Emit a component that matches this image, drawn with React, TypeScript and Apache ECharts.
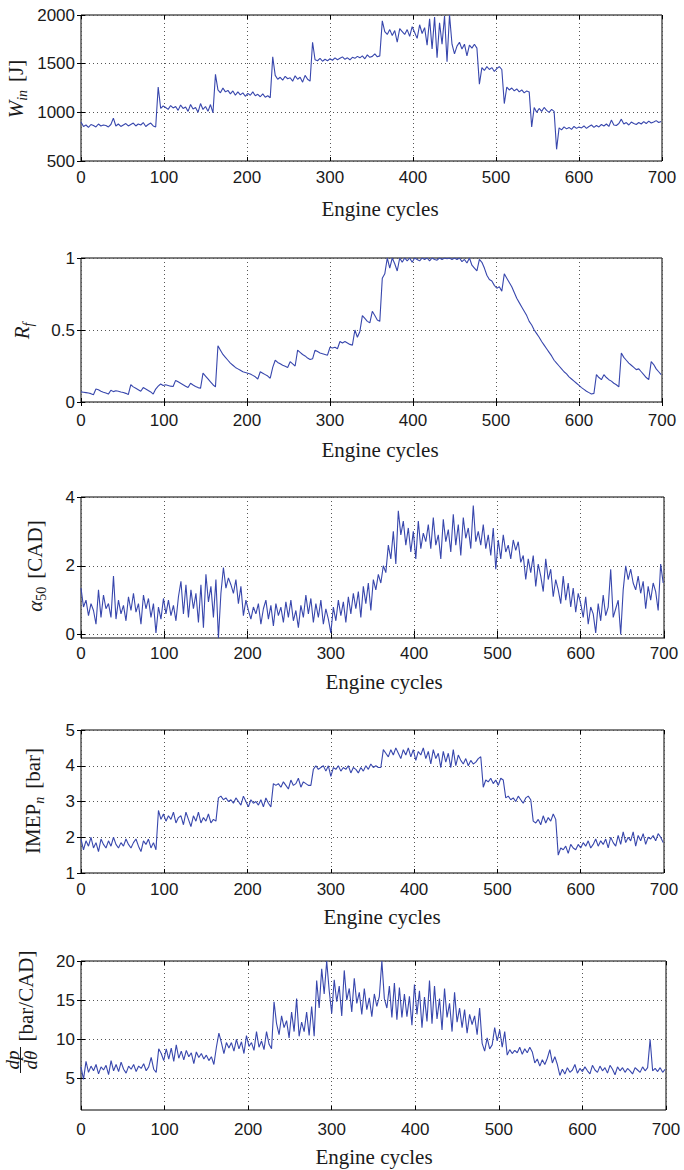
import React, { useEffect, useRef } from "react";
import * as echarts from "echarts";

// cycle index of each sample (every 3rd engine cycle)
const STEP = 3;
const N = 234;
const CYCLES: number[] = Array.from({ length: N }, (_, i) => i * STEP);

const X_TICKS = [0, 100, 200, 300, 400, 500, 600, 700];

const W_IN = [
  900, 855, 870, 845, 875, 865, 850, 880, 860, 870,
  865, 850, 875, 940, 860, 880, 855, 870, 885, 860,
  875, 890, 860, 880, 870, 895, 855, 875, 890, 860,
  850, 1260, 1040, 1065, 1050, 1030, 1070, 1045, 1060, 1020,
  1075, 1040, 1055, 1010, 1080, 1035, 1050, 1000, 1090, 1030,
  1060, 1010, 1080, 995, 1390, 1230, 1200, 1250, 1210, 1225,
  1190, 1220, 1175, 1210, 1180, 1200, 1165, 1195, 1175, 1210,
  1170, 1185, 1160, 1190, 1155, 1170, 1150, 1570, 1380, 1340,
  1360, 1330, 1370, 1345, 1355, 1320, 1375, 1340, 1360, 1310,
  1380, 1340, 1320, 1720, 1540, 1530, 1555, 1525, 1545, 1530,
  1550, 1535, 1560, 1540, 1555, 1570, 1545, 1560, 1540, 1565,
  1555, 1575, 1560, 1580, 1550, 1590, 1565, 1575, 1600, 1570,
  1580, 1940, 1830, 1800, 1850, 1790, 1840, 1720, 1860, 1830,
  1800, 1850, 1780, 1880, 1820, 1760, 1900, 1810, 1870, 1690,
  1960, 1650, 1980, 1560, 1920, 1700, 1990, 1520, 2000, 1700,
  1600, 1680, 1720, 1650, 1700, 1580, 1690, 1660, 1700, 1660,
  1290, 1460, 1430, 1470, 1440, 1460, 1420, 1450, 1470, 1440,
  1090, 1260, 1230, 1250, 1220, 1240, 1210, 1230, 1200, 1220,
  1210, 850, 1050, 1000, 1040, 1010, 1050, 1020, 1000, 1030,
  1010, 620, 840, 820, 850, 830, 845, 825, 855, 835,
  850, 840, 860, 835, 855, 870, 845, 865, 850, 875,
  860, 880, 855, 920, 870, 865, 885, 930, 880, 895,
  870, 900, 885, 875, 895, 880, 905, 885, 910, 890,
  900, 915, 895, 905,
];

const R_F = [
  0.07, 0.068, 0.065, 0.062, 0.058, 0.05, 0.09, 0.085, 0.075, 0.068,
  0.062, 0.055, 0.082, 0.072, 0.078, 0.075, 0.07, 0.066, 0.06, 0.052,
  0.12, 0.105, 0.095, 0.085, 0.075, 0.1, 0.09, 0.08, 0.07, 0.055,
  0.09, 0.11, 0.125, 0.115, 0.12, 0.115, 0.11, 0.108, 0.15, 0.14,
  0.13, 0.12, 0.11, 0.1, 0.13, 0.118, 0.108, 0.1, 0.095, 0.2,
  0.18, 0.16, 0.14, 0.12, 0.105, 0.39, 0.36, 0.33, 0.31, 0.29,
  0.27, 0.255, 0.24, 0.23, 0.22, 0.21, 0.205, 0.2, 0.195, 0.185,
  0.175, 0.16, 0.21, 0.2, 0.19, 0.18, 0.165, 0.24, 0.29, 0.275,
  0.265, 0.255, 0.248, 0.24, 0.28, 0.265, 0.25, 0.36, 0.345, 0.33,
  0.32, 0.305, 0.295, 0.3, 0.36, 0.35, 0.34, 0.335, 0.33, 0.325,
  0.38, 0.375, 0.38, 0.37, 0.42, 0.41, 0.42, 0.41, 0.4, 0.395,
  0.5, 0.45, 0.49, 0.6, 0.58, 0.56, 0.55, 0.63, 0.6, 0.57,
  0.56, 0.86, 0.89, 1.0, 0.93, 1.0, 0.96, 0.91, 1.0, 0.97,
  1.0, 0.98, 1.0, 0.97, 1.0, 0.99, 0.98, 1.0, 0.99, 1.0,
  0.98, 1.0, 0.99, 0.985, 1.0, 0.99, 1.0, 0.995, 1.0, 0.99,
  1.0, 0.99, 1.0, 0.975, 0.99, 0.965, 1.0, 0.95, 0.93, 0.91,
  0.99, 0.97, 0.93, 0.88, 0.85, 0.84, 0.81, 0.79, 0.8, 0.77,
  0.89, 0.86, 0.83, 0.8, 0.76, 0.72, 0.69, 0.66, 0.63, 0.6,
  0.56, 0.535, 0.5, 0.475, 0.45, 0.42, 0.395, 0.37, 0.345, 0.32,
  0.29, 0.27, 0.25, 0.23, 0.21, 0.195, 0.175, 0.16, 0.145, 0.13,
  0.115, 0.1, 0.088, 0.075, 0.065, 0.055, 0.06, 0.19, 0.17, 0.155,
  0.19, 0.17, 0.155, 0.145, 0.13, 0.12, 0.105, 0.34, 0.31, 0.29,
  0.27, 0.255, 0.24, 0.225, 0.23, 0.21, 0.19, 0.17, 0.155, 0.28,
  0.26, 0.23, 0.21, 0.19,
];

const ALPHA50 = [
  1.35, 0.8, 1.0, 0.55, 0.9, 0.7, 0.3, 1.3, 0.5, 1.15,
  0.75, 0.9, 0.5, 1.7, 0.45, 1.0, 0.6, 0.85, 0.4, 1.1,
  0.7, 1.2, 0.65, 0.9, 0.3, 1.15, 0.75, 1.05, 0.5, 0.9,
  0.05, 0.8, 0.45, 1.05, 0.6, 1.0, 0.55, 0.85, 0.4, 1.1,
  1.55, 0.6, 1.45, 0.5, 1.3, 0.75, 1.2, 0.35, 1.45, 0.2,
  1.75, 0.95, 1.4, 0.5, 1.6, -0.1, 1.2, 1.95, 1.35, 1.65,
  1.45, 1.2, 1.6, 0.9, 1.4, 0.55, 1.0, 0.7, 0.45, 0.8,
  0.6, 0.9, 0.3, 0.75, 1.0, 0.45, 0.85, 0.25, 0.9, 0.55,
  0.8, 0.35, 0.95, 0.5, 1.0, 0.4, 0.7, 0.2, 0.85, 0.5,
  1.15, 0.6, 1.05, 0.35, 0.9, 0.5, 1.0, 0.3, 0.75, 0.45,
  0.05, 0.8, 0.4, 1.0, 0.55, 0.95, 0.35, 1.1, 0.6, 1.2,
  0.75, 1.25, 0.5, 1.4, 0.9, 1.5, 0.7, 1.6, 1.3, 1.75,
  1.5, 2.0, 1.8, 2.6, 2.2, 3.0, 2.05, 3.6, 2.9, 3.3,
  2.6, 3.1, 2.4, 3.0, 2.2, 3.3, 2.5, 2.95, 2.7, 3.2,
  2.5, 3.4, 2.6, 2.9, 2.2, 3.35, 2.7, 3.05, 2.4, 3.5,
  2.6, 3.2, 2.3, 3.4, 2.8, 3.1, 2.5, 3.75, 2.7, 3.0,
  2.6, 3.2, 2.5, 2.9, 2.3, 3.1, 1.9, 2.75, 2.2, 2.9,
  2.4, 2.6, 2.2, 2.75, 2.45, 2.7, 2.1, 2.3, 1.6, 2.2,
  1.8, 2.3, 1.4, 2.05, 1.7, 1.25, 2.2, 1.6, 1.9, 1.1,
  1.6, 1.3, 0.9, 1.7, 1.0, 1.5, 0.8, 1.35, 0.65, 1.2,
  0.9, 0.5, 1.1, 0.3, 0.8, 0.6, 0.05, 0.9, 0.4, 1.15,
  0.55, 0.8, 1.9, 0.5, 0.75, 1.0, 0.0, 1.3, 2.0, 1.6,
  1.9, 1.5, 1.3, 1.7, 1.2, 1.55, 0.75, 1.4, 1.0, 1.5,
  1.25, 0.7, 2.05, 1.5,
];

const IMEP_N = [
  1.95, 1.65, 1.9, 1.75, 2.0, 1.7, 1.85, 1.6, 1.95, 1.8,
  1.7, 1.9, 1.75, 2.0, 1.8, 1.7, 1.85, 1.75, 1.95, 1.8,
  1.7, 1.85, 1.95, 1.75, 1.6, 1.9, 1.8, 1.95, 1.7, 1.85,
  1.65, 2.75, 2.5, 2.65, 2.45, 2.6, 2.5, 2.7, 2.4, 2.55,
  2.6, 2.35, 2.7, 2.5, 2.3, 2.6, 2.45, 2.7, 2.4, 2.55,
  2.45, 2.65, 2.4, 2.5, 2.45, 3.1, 3.15, 3.05, 3.1, 3.0,
  3.05, 2.95, 3.1, 3.0, 2.9, 3.15, 3.0, 2.85, 3.05, 2.95,
  3.0, 2.9, 3.05, 2.85, 3.1, 2.95, 2.85, 3.5, 3.45, 3.5,
  3.4, 3.55, 3.45, 3.35, 3.6, 3.45, 3.5, 3.65, 3.4, 3.55,
  3.5, 3.45, 3.45, 3.9, 4.0, 3.9, 3.95, 4.0, 3.85, 4.0,
  3.7, 3.95, 3.9, 4.0, 3.85, 3.95, 3.9, 4.0, 3.8, 3.95,
  3.9, 3.8, 3.95, 3.85, 4.0, 3.9, 4.05, 3.95, 4.0, 3.95,
  3.95, 4.45, 4.35, 4.25, 4.45, 4.3, 4.5, 4.35, 4.2, 4.45,
  4.3, 4.5, 4.25, 4.45, 4.15, 4.4, 4.3, 4.5, 4.2, 4.4,
  4.05, 4.45, 4.2, 4.35, 3.95, 4.4, 4.1, 4.35, 3.95, 4.45,
  4.0, 4.3, 4.15, 4.05, 4.2, 4.0, 4.15, 4.05, 4.1, 4.2,
  4.25, 3.4, 3.6, 3.55, 3.65, 3.5, 3.6, 3.45, 3.65, 3.6,
  3.1, 3.15, 3.05, 3.1, 3.0, 3.15, 3.05, 2.95, 3.1, 3.15,
  3.05, 2.45, 2.4, 2.5, 2.35, 2.6, 2.4, 2.55, 2.45, 2.65,
  2.5, 1.5, 1.7, 1.65, 1.75, 1.55, 1.8, 1.7, 1.65, 1.8,
  1.7, 1.85, 1.75, 1.9, 1.7, 1.8, 1.95, 1.75, 1.9, 1.8,
  1.95, 1.7, 2.0, 1.85, 1.75, 2.05, 1.8, 2.15, 1.85, 2.0,
  1.9, 2.15, 1.75, 2.05, 1.9, 2.1, 1.8, 2.0, 1.95, 2.05,
  1.9, 2.1, 2.0, 1.85,
];

const DP_DTHETA = [
  6.5, 4.9, 7.2, 5.8, 6.6, 6.0, 6.8, 5.6, 6.5, 6.1,
  6.7, 5.5, 7.3, 6.0, 6.8, 5.9, 7.1, 6.2, 5.7, 6.6,
  6.2, 6.8, 5.9, 6.6, 6.3, 6.9, 6.0, 6.5, 7.7, 6.2,
  5.8, 8.8, 8.2, 7.3, 8.8, 7.5, 8.9, 7.2, 9.3, 7.6,
  8.5, 7.4, 8.6, 7.8, 8.3, 6.9, 8.4, 7.7, 8.2, 7.5,
  8.0, 7.3, 7.8, 6.8, 9.0, 10.8, 9.6, 8.2, 9.6, 8.9,
  9.6, 8.5, 10.0, 8.8, 9.7, 8.2, 10.5, 9.1, 9.6, 8.6,
  11.0, 9.0, 9.8, 8.7, 11.0, 9.4, 8.8, 14.8, 12.0, 10.6,
  13.0, 11.5, 12.4, 10.2, 13.5, 11.0, 15.2, 10.4, 12.2, 11.0,
  13.5, 10.5, 14.2, 10.4, 17.5, 14.0, 19.0, 15.8, 20.0, 16.2,
  13.3, 17.6, 14.8, 16.8, 13.0, 18.8, 15.0, 16.5, 13.5, 17.8,
  14.6, 16.0, 13.2, 16.5, 13.8, 15.3, 12.9, 15.8, 14.2, 15.5,
  20.0, 15.2, 14.0, 16.8, 12.8, 17.2, 12.5, 16.6, 12.8, 15.8,
  12.9, 15.5, 11.8, 17.0, 13.2, 16.2, 11.5, 15.4, 12.3, 17.5,
  12.0, 16.8, 12.6, 15.2, 11.2, 16.5, 12.8, 14.6, 11.0, 16.0,
  12.2, 14.0, 11.5, 13.8, 10.8, 13.2, 11.9, 13.0, 10.6, 14.0,
  9.5, 8.5, 10.2, 8.8, 9.3, 11.5, 9.8, 11.2, 9.0, 11.0,
  8.0, 8.7, 8.2, 8.6, 8.3, 9.0, 8.1, 8.8, 8.3, 9.0,
  8.4, 7.0, 7.5, 6.6, 7.4, 6.8, 7.6, 8.7, 7.0, 7.8,
  6.8, 5.4, 6.2, 5.6, 6.4, 5.8, 6.1, 6.8, 5.7, 6.3,
  5.9, 6.5, 6.0, 5.6, 6.7, 6.1, 5.8, 6.6, 6.0, 6.4,
  5.7, 6.7, 6.2, 5.5, 6.5, 6.0, 6.4, 5.8, 6.3, 6.0,
  5.6, 6.4, 6.1, 5.8, 6.5, 6.0, 6.4, 10.0, 6.0, 6.3,
  5.9, 6.4, 5.8, 6.2,
];

const Y_TICKS_W = [500, 1000, 1500, 2000];
const Y_TICKS_R = [0, 0.5, 1];
const Y_TICKS_A = [0, 2, 4];
const Y_TICKS_I = [1, 2, 3, 4, 5];
const Y_TICKS_D = [5, 10, 15, 20];

const SERIES = [W_IN, R_F, ALPHA50, IMEP_N, DP_DTHETA];

const SANS = "'Liberation Sans', Arial, Helvetica, sans-serif";
const SERIF = "'Liberation Serif', 'Times New Roman', serif";
const LINE_COLOR = "#3847ad";
const TEXT = "#1a1a1a";

export default function App() {
  const ref = useRef<HTMLDivElement>(null);

  useEffect(() => {
    if (!ref.current) return;
    const chart = echarts.init(ref.current, undefined, { renderer: "svg" });

    const grids = [
      { left: 81, top: 15, width: 581, height: 146 },
      { left: 81, top: 258, width: 581, height: 144 },
      { left: 81, top: 497, width: 583, height: 141 },
      { left: 81, top: 730, width: 583, height: 143 },
      { left: 81, top: 961, width: 585, height: 149 },
    ];
    const xLabelMargin = [8, 10, 7, 8, 11];
    const yRanges = [
      { min: 500, max: 2000, ticks: Y_TICKS_W },
      { min: 0, max: 1, ticks: Y_TICKS_R },
      { min: -0.1, max: 4, ticks: Y_TICKS_A },
      { min: 1, max: 5, ticks: Y_TICKS_I },
      { min: 1, max: 20, ticks: Y_TICKS_D },
    ];

    const splitLine = {
      show: true,
      lineStyle: { color: "#555", width: 1, type: [1, 3] as any },
    };
    const tickStyle = { show: true, inside: true, length: 4, lineStyle: { color: "#000", width: 1 } };
    const labelFont = { fontFamily: SANS, fontSize: 17, color: TEXT, formatter: (v: number) => String(v) };

    const xAxis: any[] = [];
    const yAxis: any[] = [];
    const series: any[] = [];

    grids.forEach((g, i) => {
      xAxis.push({
        type: "value", gridIndex: i, position: "bottom", min: 0, max: 700,
        axisLine: { show: false },
        axisTick: { ...tickStyle, customValues: X_TICKS },
        axisLabel: { ...labelFont, margin: xLabelMargin[i], customValues: X_TICKS },
        splitLine: { ...splitLine },
      });
      xAxis.push({
        type: "value", gridIndex: i, position: "top", min: 0, max: 700,
        axisLine: { show: false },
        axisTick: { ...tickStyle, customValues: X_TICKS },
        axisLabel: { show: false },
        splitLine: { show: false },
      });
      const yr = yRanges[i];
      yAxis.push({
        type: "value", gridIndex: i, position: "left", min: yr.min, max: yr.max,
        axisLine: { show: false },
        axisTick: { ...tickStyle, customValues: yr.ticks },
        axisLabel: { ...labelFont, margin: 6, customValues: yr.ticks },
        splitLine: { ...splitLine },
      });
      yAxis.push({
        type: "value", gridIndex: i, position: "right", min: yr.min, max: yr.max,
        axisLine: { show: false },
        axisTick: { ...tickStyle, customValues: yr.ticks },
        axisLabel: { show: false },
        splitLine: { show: false },
      });
      series.push({
        type: "line",
        xAxisIndex: i * 2,
        yAxisIndex: i * 2,
        data: CYCLES.map((c, k) => [c, SERIES[i][k]]),
        showSymbol: false,
        symbol: "none",
        lineStyle: { color: LINE_COLOR, width: 1.1 },
        clip: true,
        z: 3,
      });
    });

    const xTitleSpots = [
      [380, 209],
      [380, 450],
      [384, 682],
      [382, 917],
      [374, 1157],
    ];

    const graphic: any[] = xTitleSpots.map(([x, y]) => ({
      type: "text",
      x, y,
      style: {
        text: "Engine cycles",
        fontFamily: SERIF, fontSize: 21, fill: TEXT,
        align: "center", verticalAlign: "middle",
      },
    }));

    const rich = {
      it: { fontFamily: SERIF, fontStyle: "italic", fontSize: 21, fill: TEXT, lineHeight: 24 },
      rm: { fontFamily: SERIF, fontSize: 21, fill: TEXT, lineHeight: 24 },
      sub: { fontFamily: SERIF, fontStyle: "italic", fontSize: 14, fill: TEXT, lineHeight: 15, padding: [12, 0, 0, 0] },
      subrm: { fontFamily: SERIF, fontSize: 14, fill: TEXT, lineHeight: 15, padding: [12, 0, 0, 0] },
      gap: { fontFamily: SERIF, fontSize: 21, fill: TEXT, lineHeight: 24, padding: [0, 0, 0, 8] },
    };
    const yLabel = (x: number, y: number, text: string) => ({
      type: "text",
      x, y, rotation: Math.PI / 2,
      style: { text, rich, align: "center", verticalAlign: "middle" },
    });

    graphic.push(yLabel(16, 89, "{it|W}{sub|in}{gap|[J]}"));
    graphic.push(yLabel(22, 331, "{it|R}{sub|f}"));
    graphic.push(yLabel(35, 566, "{it|α}{subrm|50}{gap|[CAD]}"));
    graphic.push(yLabel(33, 801, "{rm|IMEP}{sub|n}{gap|[bar]}"));
    // dp/dθ fraction
    graphic.push({
      type: "text", x: 12, y: 1060, rotation: Math.PI / 2,
      style: { text: "dp", fontFamily: SERIF, fontStyle: "italic", fontSize: 19, fill: TEXT, align: "center", verticalAlign: "middle" },
    });
    graphic.push({
      type: "line",
      shape: { x1: 20.5, y1: 1047, x2: 20.5, y2: 1073 },
      style: { stroke: TEXT, lineWidth: 1 },
    });
    graphic.push({
      type: "text", x: 30, y: 1060, rotation: Math.PI / 2,
      style: { text: "dθ", fontFamily: SERIF, fontStyle: "italic", fontSize: 19, fill: TEXT, align: "center", verticalAlign: "middle" },
    });
    graphic.push({
      type: "text", x: 26, y: 996, rotation: Math.PI / 2,
      style: { text: "[bar/CAD]", fontFamily: SERIF, fontSize: 21, fill: TEXT, align: "center", verticalAlign: "middle" },
    });

    chart.setOption({
      animation: false,
      backgroundColor: "#fff",
      grid: grids.map((g) => ({ ...g, show: true, borderColor: "#000", borderWidth: 1, backgroundColor: "transparent", containLabel: false })),
      xAxis,
      yAxis,
      series,
      graphic,
    });

    return () => chart.dispose();
  }, []);

  return (
    <div
      ref={ref}
      style={{ position: "fixed", left: 0, top: 0, width: 684, height: 1170, background: "#fff" }}
    />
  );
}
